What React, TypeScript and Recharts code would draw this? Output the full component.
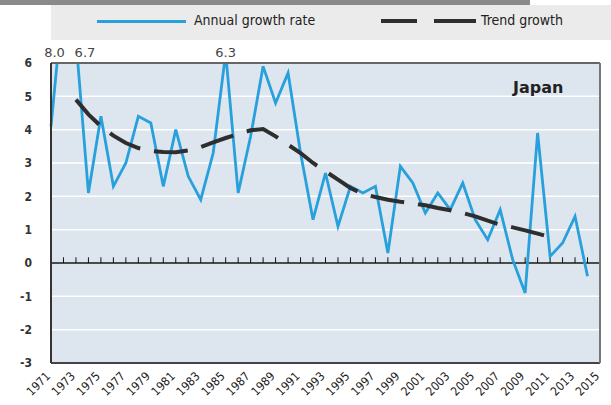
import React from 'react';
import {
  LineChart, Line, XAxis, YAxis, CartesianGrid, ReferenceLine, ReferenceDot,
} from 'recharts';

const years = [
  1971, 1972, 1973, 1974, 1975, 1976, 1977, 1978, 1979, 1980,
  1981, 1982, 1983, 1984, 1985, 1986, 1987, 1988, 1989, 1990,
  1991, 1992, 1993, 1994, 1995, 1996, 1997, 1998, 1999, 2000,
  2001, 2002, 2003, 2004, 2005, 2006, 2007, 2008, 2009, 2010,
  2011, 2012, 2013, 2014,
];

const annualGrowth = [
  4.1, 8.0, 6.7, 2.1, 4.4, 2.3, 3.0, 4.4, 4.2, 2.3,
  4.0, 2.6, 1.9, 3.3, 6.3, 2.1, 3.8, 5.9, 4.8, 5.7,
  3.3, 1.3, 2.7, 1.1, 2.3, 2.1, 2.3, 0.3, 2.9, 2.4,
  1.5, 2.1, 1.6, 2.4, 1.3, 0.7, 1.6, 0.1, -0.9, 3.9,
  0.2, 0.6, 1.4, -0.4,
];

// trend series runs 1973-2011
const trendStart = 1973;
const trendGrowth = [
  4.9, 4.46, 4.1, 3.82, 3.6, 3.45, 3.36, 3.33, 3.32, 3.38,
  3.48, 3.62, 3.75, 3.87, 3.98, 4.02, 3.8, 3.55, 3.3, 3.0,
  2.75, 2.5, 2.25, 2.07, 1.98, 1.9, 1.84, 1.79, 1.73, 1.65,
  1.58, 1.5, 1.4, 1.27, 1.15, 1.07, 0.98, 0.88, 0.78,
];

const xTicks = [
  1971, 1973, 1975, 1977, 1979, 1981, 1983, 1985, 1987, 1989, 1991, 1993,
  1995, 1997, 1999, 2001, 2003, 2005, 2007, 2009, 2011, 2013, 2015,
];
const yTicks = [-3, -2, -1, 0, 1, 2, 3, 4, 5, 6];

// values cut off by the top of the chart
const offScale = [
  { year: 1972, value: 8.0 },
  { year: 1973, value: 6.7 },
  { year: 1985, value: 6.3 },
];
const offScaleShift: Record<number, number> = { 1972: -9, 1973: 9, 1985: 0 };

const data = years.map((year, i) => {
  const t = year - trendStart;
  return {
    year,
    annual: annualGrowth[i],
    trend: t >= 0 && t < trendGrowth.length ? trendGrowth[t] : null,
  };
});

const FONT = '"DejaVu Sans Condensed", "DejaVu Sans", sans-serif';
const BLUE = '#27a0dc';
const DARK = '#2e2e2e';

const YearTick = ({ x, y, payload }: any) => (
  <g transform={`translate(${x},${y + 12})`}>
    <text x={0} y={0} textAnchor="end" transform="rotate(-45)"
      fontSize={12} fill="#222" fontFamily={FONT}>
      {payload.value}
    </text>
  </g>
);

const App: React.FC = () => {
  return (
    <div style={{ position: 'absolute', left: 0, top: 0, width: 611, height: 405, background: '#fff', fontFamily: FONT }}>
      {/* legend header */}
      <div style={{ position: 'absolute', left: 0, top: 0, width: 530, height: 5, background: '#8a8a8a' }} />
      <div style={{ position: 'absolute', left: 51, top: 5, width: 560, height: 35, background: '#ebebeb' }} />
      <div style={{ position: 'absolute', left: 97, top: 20, width: 89, height: 3, background: BLUE }} />
      <div style={{ position: 'absolute', left: 194, top: 13, fontSize: 14, lineHeight: '14px', color: '#222' }}>Annual growth rate</div>
      <div style={{ position: 'absolute', left: 381, top: 19, width: 36, height: 4, background: DARK }} />
      <div style={{ position: 'absolute', left: 434, top: 19, width: 42, height: 4, background: DARK }} />
      <div style={{ position: 'absolute', left: 481, top: 13, fontSize: 14, lineHeight: '14px', color: '#222' }}>Trend growth</div>

      <LineChart width={611} height={405} data={data}
        margin={{ top: 63, right: 11, bottom: 0, left: 0 }}
        style={{ position: 'absolute', left: 0, top: 0 }}>
        <CartesianGrid vertical={false} stroke="#fff" strokeWidth={1.5} fill="#dde5ee" />
        <XAxis dataKey="year" type="number" domain={[1971, 2015]} ticks={xTicks}
          interval={0} height={42} axisLine={false} tickLine={false} tickSize={0}
          tickMargin={2} tick={<YearTick />} />
        <YAxis domain={[-3, 6]} ticks={yTicks} allowDataOverflow width={51}
          axisLine={false} tickLine={false} tickSize={0} tickMargin={19}
          tick={{ fontSize: 12, fontWeight: 'bold', fill: '#333', fontFamily: FONT }} />

        {years.slice(1).map((yr) => (
          <ReferenceLine key={`t${yr}`} segment={[{ x: yr, y: 0 }, { x: yr, y: 0.17 }]}
            stroke="#111" strokeWidth={1} />
        ))}
        <ReferenceLine y={0} stroke="#111" strokeWidth={1.5} />

        <Line type="linear" dataKey="annual" stroke={BLUE} strokeWidth={2.8}
          dot={false} isAnimationActive={false} />
        <Line type="linear" dataKey="trend" stroke={DARK} strokeWidth={4}
          strokeDasharray="34 14" dot={false} isAnimationActive={false} />

        <ReferenceLine y={6} stroke="#666" strokeWidth={2} />
        <ReferenceLine y={-3} stroke="#444" strokeWidth={2} />
        <ReferenceLine x={1971} stroke="#333" strokeWidth={2} />
        <ReferenceLine x={2015} stroke="#777" strokeWidth={2} />

        {offScale.map((d) => (
          <ReferenceDot key={d.year} x={d.year} y={6} r={0} fill="none" stroke="none"
            label={(p: any) => (
              <text x={p.viewBox.x + offScaleShift[d.year]} y={p.viewBox.y - 6}
                textAnchor="middle" fontSize={13} fill="#444" fontFamily='"DejaVu Sans", sans-serif'>
                {d.value.toFixed(1)}
              </text>
            )} />
        ))}
      </LineChart>

      <div style={{ position: 'absolute', left: 513, top: 80, fontSize: 16, lineHeight: '16px', fontWeight: 'bold', color: '#222', fontFamily: '"DejaVu Sans", sans-serif' }}>Japan</div>
    </div>
  );
};

export default App;
